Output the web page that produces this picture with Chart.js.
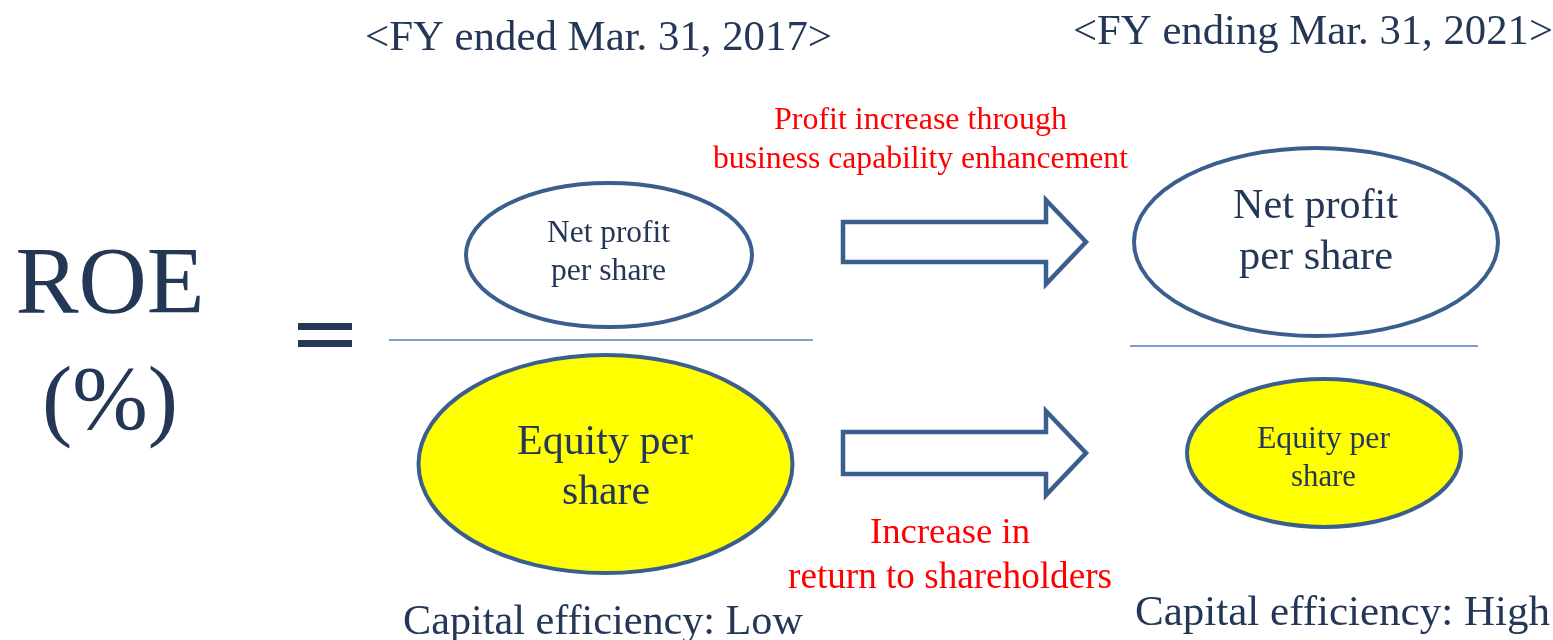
<!DOCTYPE html>
<html>
<head>
<meta charset="utf-8">
<script src="https://cdn.jsdelivr.net/npm/chart.js@4.4.0/dist/chart.umd.min.js"></script>
<style>
  body { margin: 0; background: #fff; }
  #wrap { width: 1553px; height: 640px; }
</style>
</head>
<body>
<div id="wrap"><canvas id="roeChart"></canvas></div>
<script>
// diagram texts
const periods = ['<FY ended Mar. 31, 2017>', '<FY ending Mar. 31, 2021>'];
const numeratorLabel = ['Net profit', 'per share'];
const denominatorLabel = ['Equity per', 'share'];
const driverLabels = [
    ['Profit increase through', 'business capability enhancement'],
    ['Increase in', 'return to shareholders']
];
const efficiencyLabels = ['Capital efficiency: Low', 'Capital efficiency: High'];
const roeLabel = ['ROE', '(%)'];

// layout (axis units = px of the 1553x640 frame, y counted from top)
// text: [centre x, baseline y, width it should span]
const ellipses = [
    { x: 609, y: 255, rx: 143, ry: 72, fill: '#ffffff', lines: [[608.5, 242, 123], [608.5, 280, 115]] },
    { x: 605.5, y: 464, rx: 187, ry: 109, fill: '#ffff00', lines: [[605, 454, 176], [606, 504, 88]] },
    { x: 1316, y: 242, rx: 182, ry: 94, fill: '#ffffff', lines: [[1315.5, 218, 165], [1316, 269, 154]] },
    { x: 1324, y: 453, rx: 137, ry: 74, fill: '#ffff00', lines: [[1323.5, 448, 133], [1323.5, 486, 65]] }
];
const ellipseText = [numeratorLabel, denominatorLabel, numeratorLabel, denominatorLabel];
const periodPos = [[598.5, 50, 467], [1313, 44, 480]];
const driverPos = [
    [[920.5, 129, 293], [920.5, 168, 415]],
    [[950, 543, 160], [950, 588, 324]]
];
const efficiencyPos = [[603, 634, 400], [1342.5, 625, 415]];
const dividers = [[389, 813, 340], [1130, 1478, 346]];
const arrows = [
    { x0: 843, x1: 1046, tip: 1086, y: 242, body: 20, head: 42 },
    { x0: 843, x1: 1046, tip: 1086, y: 453, body: 21, head: 42 }
];

const navy = '#243757';
const border = '#3a5f8f';
const serif = '"Liberation Serif", "Times New Roman", serif';

const diagramPlugin = {
    id: 'diagram',
    afterDraw(chart) {
        const c = chart.ctx;
        const xs = chart.scales.x, ys = chart.scales.y;
        const X = v => xs.getPixelForValue(v);
        const Y = v => ys.getPixelForValue(v);
        // draw text centred, font size chosen so the string spans the given width
        const text = (s, p, color) => {
            const w = X(p[2]) - X(0);
            c.font = '40px ' + serif;
            const size = 40 * w / c.measureText(s).width;
            c.font = size.toFixed(2) + 'px ' + serif;
            c.fillStyle = color;
            c.textAlign = 'center';
            c.textBaseline = 'alphabetic';
            c.fillText(s, X(p[0]), Y(p[1]));
        };
        c.save();

        // period headers
        periods.forEach((s, i) => text(s, periodPos[i], navy));

        // ROE (%) =
        text(roeLabel[0], [110, 313, 189], navy);
        text(roeLabel[1], [110, 429, 136], navy);
        c.fillStyle = navy;
        c.fillRect(X(298), Y(323), X(352) - X(298), Y(330) - Y(323));
        c.fillRect(X(298), Y(340), X(352) - X(298), Y(347) - Y(340));

        // fraction lines
        c.strokeStyle = '#4f81bd';
        c.lineWidth = 1.5;
        dividers.forEach(d => {
            c.beginPath();
            c.moveTo(X(d[0]), Y(d[2]));
            c.lineTo(X(d[1]), Y(d[2]));
            c.stroke();
        });

        // ellipses
        ellipses.forEach((e, i) => {
            c.beginPath();
            c.ellipse(X(e.x), Y(e.y), X(e.x + e.rx) - X(e.x), Y(e.y + e.ry) - Y(e.y), 0, 0, Math.PI * 2);
            c.fillStyle = e.fill;
            c.fill();
            c.lineWidth = 4;
            c.strokeStyle = border;
            c.stroke();
            ellipseText[i].forEach((s, k) => text(s, e.lines[k], navy));
        });

        // block arrows
        arrows.forEach(a => {
            c.beginPath();
            c.moveTo(X(a.x0), Y(a.y - a.body));
            c.lineTo(X(a.x1), Y(a.y - a.body));
            c.lineTo(X(a.x1), Y(a.y - a.head));
            c.lineTo(X(a.tip), Y(a.y));
            c.lineTo(X(a.x1), Y(a.y + a.head));
            c.lineTo(X(a.x1), Y(a.y + a.body));
            c.lineTo(X(a.x0), Y(a.y + a.body));
            c.closePath();
            c.fillStyle = '#ffffff';
            c.fill();
            c.lineWidth = 4.5;
            c.lineJoin = 'miter';
            c.strokeStyle = border;
            c.stroke();
        });

        // red driver notes
        driverLabels.forEach((pair, i) => pair.forEach((s, k) => text(s, driverPos[i][k], '#ff0000')));

        // capital efficiency
        efficiencyLabels.forEach((s, i) => text(s, efficiencyPos[i], navy));

        c.restore();
    }
};

new Chart(document.getElementById('roeChart'), {
    type: 'scatter',
    data: {
        datasets: [{
            data: [],
            pointRadius: 0
        }]
    },
    options: {
        responsive: true,
        maintainAspectRatio: false,
        animation: false,
        layout: { padding: 0 },
        plugins: {
            legend: { display: false },
            tooltip: { enabled: false }
        },
        scales: {
            x: { type: 'linear', min: 0, max: 1553, display: false },
            y: { type: 'linear', min: 0, max: 640, reverse: true, display: false }
        }
    },
    plugins: [diagramPlugin]
});
</script>
</body>
</html>
